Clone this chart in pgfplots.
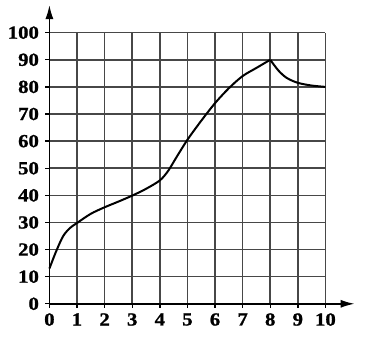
\documentclass[border=0pt]{standalone}
\usepackage{pgfplots}
\pgfplotsset{compat=1.18}
\usepackage{fontspec}
\setmainfont{Liberation Serif}
\newfontfamily\tickfont[FakeStretch=1.12, FakeBold=1.2]{Liberation Serif Bold}
\usetikzlibrary{arrows.meta}
\begin{document}
\begin{tikzpicture}[x=1pt,y=1pt]
\begin{axis}[
  scale only axis,
  width=276.2pt, height=271.3pt,
  xmin=0, xmax=10, ymin=0, ymax=100,
  axis lines=left,
  axis line style={line width=1.6pt, black, -},
  xtick={0,1,...,10}, ytick={0,10,...,100},
  xticklabel={\tickfont\fontsize{18.5}{18.5}\selectfont\pgfmathprintnumber{\tick}},
  yticklabel={\tickfont\fontsize{18.5}{18.5}\selectfont\pgfmathprintnumber{\tick}},
  grid=major,
  major grid style={line width=1.6pt, black!72},
  tick align=outside,
  major tick length=4pt,
  tick style={line width=1.4pt, black},
  /pgf/number format/assume math mode=true,
  xticklabel style={yshift=-2pt},
  yticklabel style={xshift=-3pt},
  clip=false,
]
\addplot[black, line width=2pt, smooth, tension=0.5] coordinates {
(0,13) (0.25,19.5) (0.5,25) (0.75,28) (1,29.8) (1.5,33.2) (2,35.6) (2.5,37.7) (3,39.9) (3.5,42.4) (4,45.5) (4.3,49) (4.6,54) (5,60.5) (5.5,67.5) (6,74) (6.5,79.5) (7,84) (7.5,87) (8,90)
};
\addplot[black, line width=2pt, smooth, tension=0.5] coordinates {
(8,90) (8.3,86) (8.6,83.3) (9,81.5) (9.5,80.5) (10,80)
};
\draw[line width=1.6pt, -{Latex[length=14pt,width=8pt]}] (axis cs:10,0) -- (axis cs:11.06,0);
\draw[line width=1.6pt, -{Latex[length=14pt,width=8pt]}] (axis cs:0,100) -- (axis cs:0,110.2);
\path[use as bounding box] (axis cs:-1.79,-15.85) rectangle (axis cs:11.47,112.05);
\end{axis}
\end{tikzpicture}
\end{document}
